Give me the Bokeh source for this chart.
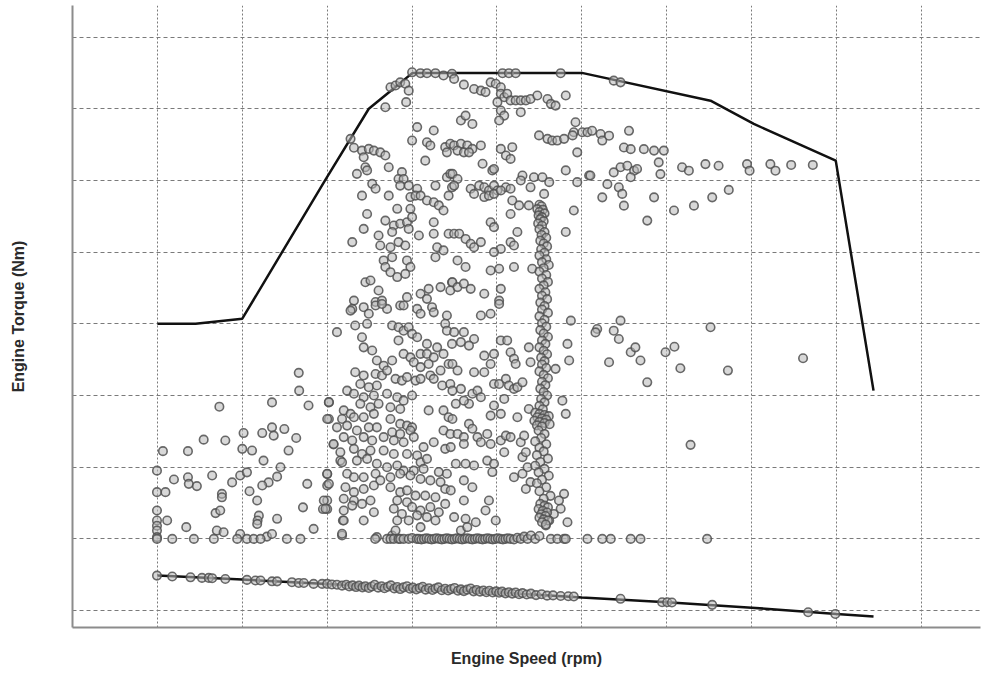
from bokeh.plotting import figure
from bokeh.models import Range1d, FixedTicker
from bokeh.embed import file_html
from bokeh.resources import INLINE

# Grid positions (no tick labels are shown)
speed_grid = [800, 1000, 1200, 1400, 1600, 1800, 2000, 2200, 2400, 2600]
torque_grid = [-250, 0, 250, 500, 750, 1000, 1250, 1500, 1750]

# Full-load (maximum torque) curve
full_load_rpm = [800, 890, 1000, 1196, 1298, 1350, 1401, 1800, 2103, 2205, 2398, 2487]
full_load_nm = [750, 750, 768, 1253, 1500, 1563, 1625, 1625, 1528, 1447, 1319, 517]

# Motoring (drag torque) curve
motoring_rpm = [800, 1000, 1200, 1400, 1600, 1800, 2000, 2200, 2400, 2487]
motoring_nm = [-128, -142, -157, -172, -186, -204, -221, -240, -262, -271]

# Measured operating points, grouped by area of the map (rpm, Nm)
low_speed_pts = [
    (813, 306), (872, 306), (799, 238), (839, 207), (872, 215), (874, 192), (893, 184),
    (929, 221), (909, 346), (960, 343), (946, 461), (799, 163), (819, 163), (799, 99),
    (823, 64), (799, 64), (799, 46), (799, 29), (799, 6), (868, 41), (952, 157), (952, 145),
    (937, 90), (948, 99), (940, 29), (956, 23), (976, 197), (995, 221), (1011, 232),
    (1000, 314), (1003, 369), (1023, 308), (1050, 273), (1047, 369), (1070, 389),
    (1074, 360), (1099, 383), (1070, 476), (1133, 579), (1134, 517), (1156, 465),
    (1127, 352), (1109, 308), (1090, 250), (1082, 217), (1062, 197), (1047, 186),
    (1017, 166), (1035, 134), (1039, 81), (1036, 64), (1035, 52), (1082, 70), (1168, 35),
    (1153, 192), (1143, 110), (995, 17), (1058, 8), (1070, 17), (1200, 134), (1200, 104),
    (1190, 104), (1200, 186), (1200, 226), (1204, 476), (1204, 418), (1215, 329),
    (1235, 12), (1237, 64), (1231, 273),
]

upper_cloud_pts = [
    (1400, 1627), (1420, 1624), (1435, 1624), (1455, 1624), (1474, 1616), (1494, 1622),
    (1349, 1575), (1361, 1581), (1372, 1592), (1384, 1587), (1392, 1563), (1386, 1523),
    (1337, 1505), (1255, 1395), (1263, 1364), (1412, 1436), (1451, 1424), (1400, 1389),
    (1435, 1383), (1443, 1372), (1431, 1319), (1478, 1366), (1490, 1378), (1482, 1348),
    (1282, 1354), (1298, 1360), (1310, 1354), (1325, 1348), (1337, 1337), (1286, 1331),
    (1270, 1273), (1290, 1296), (1294, 1285), (1345, 1296), (1376, 1279), (1368, 1255),
    (1380, 1255), (1372, 1232), (1392, 1232), (1306, 1238), (1314, 1221), (1282, 1197),
    (1345, 1197), (1396, 1192), (1412, 1221), (1408, 1197), (1420, 1197), (1435, 1180),
    (1451, 1174), (1463, 1163), (1474, 1145), (1455, 1232), (1482, 1261), (1490, 1273),
    (1486, 1197), (1494, 1226), (1365, 1151), (1396, 1151), (1294, 1133), (1337, 1110),
    (1357, 1093), (1372, 1099), (1388, 1104), (1400, 1122), (1286, 1081), (1353, 1070),
    (1392, 1081), (1451, 1104), (1451, 1064), (1486, 1064), (1321, 1058), (1325, 1023),
    (1368, 1035), (1349, 1017), (1384, 1023), (1259, 1035), (1416, 1058), (1459, 1017),
    (1455, 982), (1474, 1006), (1353, 982), (1333, 971), (1388, 971), (1396, 948),
    (1337, 948), (1349, 930), (1365, 913), (1290, 895), (1302, 901), (1321, 866),
    (1384, 924), (1494, 895), (1467, 878), (1439, 872), (1420, 855), (1388, 843),
    (1372, 814), (1263, 831), (1314, 826), (1329, 831), (1341, 802), (1286, 808),
    (1259, 802), (1435, 837), (1447, 808), (1490, 866),
    (1613, 1624), (1628, 1624), (1644, 1624), (1750, 1624), (1499, 1604), (1522, 1584),
    (1546, 1569), (1562, 1563), (1573, 1558), (1585, 1592), (1597, 1587), (1609, 1575),
    (1609, 1552), (1617, 1540), (1624, 1552), (1632, 1529), (1644, 1529), (1656, 1529),
    (1668, 1529), (1679, 1534), (1695, 1546), (1719, 1534), (1727, 1517), (1738, 1511),
    (1762, 1546), (1601, 1523), (1609, 1494), (1617, 1476), (1605, 1459), (1656, 1488),
    (1515, 1459), (1526, 1476), (1542, 1447), (1785, 1453), (1781, 1418), (1699, 1407),
    (1719, 1395), (1730, 1389), (1742, 1389), (1758, 1395), (1778, 1407), (1801, 1418),
    (1813, 1418), (1789, 1348), (1499, 1372), (1515, 1378), (1530, 1372), (1542, 1360),
    (1562, 1372), (1507, 1354), (1522, 1348), (1534, 1348), (1609, 1360), (1621, 1337),
    (1636, 1366), (1632, 1325), (1566, 1308), (1589, 1285), (1593, 1290), (1762, 1285),
    (1817, 1267), (1495, 1273), (1507, 1255), (1499, 1232), (1660, 1267), (1656, 1250),
    (1687, 1261), (1707, 1261), (1723, 1244), (1679, 1226), (1711, 1203), (1789, 1244),
    (1538, 1221), (1546, 1203), (1558, 1232), (1570, 1226), (1581, 1215), (1593, 1232),
    (1601, 1215), (1621, 1226), (1632, 1221), (1570, 1192), (1581, 1197), (1593, 1203),
    (1609, 1215), (1636, 1180), (1652, 1163), (1675, 1163), (1781, 1145), (1632, 1133),
    (1585, 1104), (1593, 1087), (1648, 1070), (1762, 1070), (1499, 1064), (1511, 1064),
    (1526, 1046), (1538, 1029), (1546, 1017), (1562, 1035), (1609, 1011), (1632, 1035),
    (1640, 1023), (1593, 1000), (1507, 971), (1526, 948), (1585, 936), (1605, 942),
    (1640, 948), (1683, 942), (1495, 895), (1507, 878), (1522, 890), (1538, 872),
    (1570, 855), (1609, 872), (1605, 831),
]

lower_cloud_pts = [
    (1255, 796), (1298, 785), (1314, 814), (1329, 819), (1380, 814), (1412, 802),
    (1420, 785), (1451, 790), (1482, 779), (1266, 744), (1294, 750), (1353, 744),
    (1368, 738), (1380, 726), (1392, 738), (1400, 715), (1412, 703), (1223, 721),
    (1282, 703), (1286, 668), (1306, 657), (1368, 692), (1435, 680), (1459, 668),
    (1474, 645), (1494, 680), (1478, 750), (1482, 726), (1420, 645), (1435, 645),
    (1451, 633), (1317, 622), (1333, 604), (1353, 622), (1380, 645), (1396, 633),
    (1404, 616), (1420, 599), (1439, 610), (1467, 587), (1486, 610), (1443, 570),
    (1451, 558), (1266, 581), (1286, 570), (1314, 575), (1329, 570), (1341, 587),
    (1361, 558), (1376, 552), (1388, 564), (1408, 552), (1420, 558), (1471, 535),
    (1490, 540), (1278, 540), (1298, 529), (1317, 535), (1247, 517), (1263, 506),
    (1286, 494), (1310, 500), (1341, 506), (1365, 494), (1380, 482), (1400, 500),
    (1204, 477), (1239, 448), (1255, 436), (1278, 471), (1302, 459), (1321, 471),
    (1349, 459), (1372, 453), (1439, 448), (1474, 448), (1486, 424), (1200, 418),
    (1235, 418), (1263, 424), (1286, 424), (1310, 436), (1349, 418), (1372, 401),
    (1388, 395), (1400, 389), (1223, 389), (1247, 395), (1270, 378), (1298, 389),
    (1317, 389), (1353, 372), (1372, 366), (1396, 378), (1474, 378), (1490, 366),
    (1215, 331), (1239, 355), (1259, 343), (1286, 355), (1306, 343), (1333, 355),
    (1357, 343), (1380, 337), (1404, 355), (1451, 337), (1427, 320), (1478, 314),
    (1231, 302), (1263, 314), (1282, 296), (1302, 308), (1333, 308), (1357, 296),
    (1388, 296), (1412, 291), (1420, 267), (1435, 279), (1235, 267), (1270, 273),
    (1294, 279), (1317, 262), (1341, 250), (1365, 256), (1380, 238), (1404, 238),
    (1427, 244), (1463, 233), (1482, 227), (1200, 227), (1204, 192), (1247, 227),
    (1263, 215), (1286, 215), (1314, 227), (1325, 204), (1349, 215), (1372, 227),
    (1396, 221), (1420, 209), (1443, 204), (1467, 198), (1478, 174), (1243, 180),
    (1263, 163), (1286, 174), (1310, 186), (1349, 180), (1372, 163), (1388, 169),
    (1408, 151), (1431, 151), (1455, 145), (1192, 134), (1196, 105), (1239, 140),
    (1263, 134), (1282, 122), (1302, 134), (1365, 134), (1388, 128), (1400, 111),
    (1420, 99), (1443, 111), (1463, 93), (1478, 122), (1239, 99), (1259, 116),
    (1310, 93), (1357, 105), (1376, 87), (1412, 82), (1435, 76), (1455, 64),
    (1239, 64), (1286, 64), (1365, 64), (1392, 64), (1420, 41), (1235, 18),
    (1317, 6), (1353, 12), (1361, 29),
    (1605, 819), (1562, 779), (1585, 785), (1774, 761), (1499, 721), (1522, 721),
    (1546, 697), (1515, 686), (1534, 674), (1609, 692), (1624, 692), (1632, 651),
    (1640, 628), (1644, 610), (1570, 639), (1593, 645), (1585, 610), (1675, 668),
    (1679, 616), (1766, 680), (1770, 622), (1738, 593), (1495, 610), (1507, 587),
    (1546, 581), (1570, 581), (1593, 540), (1605, 540), (1621, 558), (1628, 535),
    (1640, 523), (1648, 529), (1660, 546), (1495, 517), (1515, 523), (1542, 506),
    (1554, 517), (1562, 494), (1534, 471), (1522, 482), (1503, 471), (1754, 482),
    (1762, 436), (1593, 465), (1617, 488), (1585, 430), (1609, 436), (1648, 424),
    (1675, 453), (1495, 418), (1534, 401), (1542, 384), (1507, 366), (1522, 355),
    (1554, 355), (1562, 337), (1577, 366), (1585, 331), (1609, 343), (1621, 360),
    (1632, 355), (1617, 302), (1656, 337), (1664, 360), (1491, 320), (1522, 331),
    (1577, 273), (1589, 233), (1593, 262), (1660, 285), (1668, 302), (1672, 250),
    (1503, 262), (1526, 262), (1546, 256), (1640, 215), (1660, 227), (1679, 198),
    (1668, 174), (1522, 204), (1542, 180), (1522, 134), (1491, 169), (1581, 134),
    (1573, 99), (1597, 64), (1499, 76), (1526, 70), (1550, 58), (1515, 29), (1530, 41),
    (1758, 157), (1746, 134), (1734, 87), (1750, 105), (1723, 64), (1715, 47),
    (1766, 58),
]

# Narrow column of points near 1700 rpm
column_pts = [
    (1700, 1165), (1705, 1160), (1695, 1150), (1708, 1148), (1700, 1140), (1712, 1135),
    (1698, 1128), (1706, 1122), (1702, 1115), (1710, 1108), (1697, 1100), (1706, 1092),
    (1700, 1080), (1712, 1070), (1705, 1060), (1716, 1050), (1702, 1040), (1710, 1030),
    (1718, 1020), (1704, 1010), (1712, 998), (1700, 988), (1716, 975), (1706, 965),
    (1722, 955), (1710, 944), (1700, 932), (1716, 920), (1706, 908), (1720, 896),
    (1710, 884), (1700, 872), (1714, 860), (1706, 848), (1718, 836), (1702, 824),
    (1712, 812), (1706, 800), (1720, 788), (1700, 776), (1712, 764), (1706, 752),
    (1716, 740), (1702, 728), (1710, 716), (1720, 704), (1706, 692), (1714, 680),
    (1700, 668), (1710, 656), (1718, 644), (1704, 632), (1712, 620), (1706, 608),
    (1716, 596), (1700, 584), (1710, 572), (1720, 560), (1706, 548), (1714, 536),
    (1702, 524), (1710, 512), (1718, 500), (1704, 488), (1712, 476), (1700, 464),
    (1708, 452), (1690, 440), (1700, 436), (1712, 432), (1722, 428), (1695, 424),
    (1706, 420), (1716, 416), (1688, 412), (1700, 408), (1712, 404), (1724, 400),
    (1694, 396), (1706, 392), (1698, 378), (1712, 366), (1704, 352), (1690, 340),
    (1716, 330), (1700, 318), (1710, 305), (1694, 292), (1720, 280), (1702, 268),
    (1690, 255), (1712, 244), (1698, 232), (1722, 220), (1706, 206), (1694, 194),
    (1716, 180), (1700, 166), (1726, 150), (1710, 140), (1702, 122), (1712, 116),
    (1720, 110), (1698, 104), (1708, 98), (1718, 92), (1704, 86), (1714, 80),
    (1700, 74), (1710, 68), (1720, 64), (1706, 58), (1715, 50),
]

high_speed_pts = [
    (1875, 1598), (1891, 1592), (1911, 1423), (1899, 1365), (1915, 1359), (1946, 1359),
    (1970, 1354), (1993, 1354), (1981, 1313), (1985, 1272), (1875, 1278), (1891, 1296),
    (1907, 1301), (1923, 1284), (1930, 1290), (1915, 1261), (1860, 1237), (1887, 1226),
    (1895, 1203), (1848, 1191), (1899, 1162), (1970, 1191), (1954, 1110), (2017, 1145),
    (1891, 761), (1836, 732), (1824, 1423), (1844, 1412), (1848, 1389), (1864, 1406),
    (1820, 1267), (2036, 1296), (2052, 1284), (2091, 1307), (2122, 1301), (2189, 1307),
    (2195, 1284), (2244, 1307), (2256, 1284), (2293, 1304), (2344, 1304), (2064, 1162),
    (2107, 1191), (2146, 1217), (2103, 738), (1997, 651), (2018, 670), (2032, 595),
    (2144, 587), (2321, 630), (2056, 328), (1832, 720), (1875, 726), (1887, 697),
    (1864, 616), (1915, 651), (1926, 668), (1938, 622), (1954, 546),
]

# Points sitting on the zero-torque line
zero_torque_pts = [
    (799, 0), (835, 0), (886, 0), (933, 0), (988, 0), (1011, 0), (1027, 0), (1043, 0),
    (1105, 0), (1137, 0), (1313, 0), (1341, 0), (1349, 0), (1357, 0), (1368, 0),
    (1372, 0), (1380, 0), (1392, 0), (1400, 3), (1411, 0), (1416, 0), (1422, -2),
    (1428, 0), (1434, 2), (1440, 0), (1446, -2), (1452, 0), (1458, 2), (1464, 0),
    (1470, -2), (1476, 0), (1482, 2), (1488, 0), (1494, -2), (1500, 0), (1506, 2),
    (1512, 0), (1518, -2), (1524, 0), (1530, 2), (1536, 0), (1542, -2), (1548, 0),
    (1554, 2), (1560, 0), (1566, -2), (1572, 0), (1578, 2), (1584, 0), (1590, -2),
    (1596, 0), (1602, 2), (1608, 0), (1614, -2), (1620, 0), (1626, 2), (1632, 0),
    (1640, -2), (1648, 4), (1656, 0), (1664, 8), (1672, 0), (1680, 12), (1690, 0),
    (1700, 10), (1727, 0), (1742, 0), (1758, 0), (1762, 0), (1813, 0), (1848, 0),
    (1868, 0), (1915, 0), (1938, 0), (2095, 0),
]

# Points recorded while motoring
motoring_pts = [
    (799, -128), (835, -131), (878, -134), (905, -136), (921, -136), (929, -137),
    (960, -140), (1011, -143), (1031, -145), (1043, -145), (1070, -148), (1082, -148),
    (1117, -151), (1133, -154), (1145, -154), (1168, -157), (1188, -157), (1200, -157),
    (1211, -159), (1223, -160), (1235, -163), (1245, -160), (1252, -166), (1260, -162),
    (1268, -168), (1275, -163), (1283, -169), (1290, -165), (1298, -171), (1305, -166),
    (1312, -160), (1320, -170), (1328, -165), (1335, -172), (1343, -167), (1350, -162),
    (1358, -173), (1365, -168), (1372, -175), (1380, -169), (1388, -165), (1395, -174),
    (1402, -170), (1410, -176), (1418, -171), (1425, -167), (1432, -177), (1440, -172),
    (1448, -178), (1455, -173), (1462, -169), (1470, -179), (1478, -174), (1485, -180),
    (1492, -175), (1500, -171), (1508, -181), (1515, -176), (1522, -182), (1530, -177),
    (1538, -173), (1545, -183), (1552, -178), (1560, -184), (1568, -180), (1575, -186),
    (1582, -181), (1590, -187), (1598, -183), (1605, -188), (1612, -184), (1620, -190),
    (1628, -186), (1636, -191), (1644, -187), (1652, -193), (1660, -189), (1670, -194),
    (1680, -191), (1692, -196), (1705, -193), (1718, -198), (1732, -197), (1750, -199),
    (1768, -200), (1781, -201), (1891, -209), (1989, -221), (2001, -221), (2012, -222),
    (2107, -230), (2333, -256), (2397, -262),
]

p = figure(
    width=982, height=675,
    x_range=Range1d(600, 2739), y_range=Range1d(-309, 1860),
    output_backend="svg", toolbar_location=None,
    min_border_left=72, min_border_right=2, min_border_top=5, min_border_bottom=48,
    background_fill_color="white", border_fill_color="white",
)
p.outline_line_color = None

# Axes carry no ticks; the dashed grid gets its own tickers
for ax in (p.xaxis, p.yaxis):
    ax.ticker = FixedTicker(ticks=[])
    ax.major_tick_in = 0
    ax.major_tick_out = 0
    ax.minor_tick_in = 0
    ax.minor_tick_out = 0
    ax.major_label_standoff = 0
    ax.axis_line_color = "#8c8c8c"
    ax.axis_line_width = 2
    ax.axis_label_text_font = "Liberation Sans"
    ax.axis_label_text_font_style = "bold"
    ax.axis_label_text_font_size = "16px"
    ax.axis_label_text_color = "#2a2a2a"

p.xaxis.axis_label = "Engine Speed (rpm)"
p.yaxis.axis_label = "Engine Torque (Nm)"
p.xaxis.axis_label_standoff = 22
p.yaxis.axis_label_standoff = 46

p.xgrid.ticker = FixedTicker(ticks=speed_grid)
p.ygrid.ticker = FixedTicker(ticks=torque_grid)
p.xgrid.grid_line_color = "#7a7a7a"
p.xgrid.grid_line_dash = "2 2"
p.xgrid.grid_line_width = 1
p.ygrid.grid_line_color = "#7a7a7a"
p.ygrid.grid_line_dash = "4 3"
p.ygrid.grid_line_width = 1

p.line(full_load_rpm, full_load_nm, line_color="#111111", line_width=2.5)
p.line(motoring_rpm, motoring_nm, line_color="#111111", line_width=2.5)

groups = [low_speed_pts, upper_cloud_pts, lower_cloud_pts, column_pts,
          high_speed_pts, zero_torque_pts, motoring_pts]
for pts in groups:
    xs = [s for s, _ in pts]
    ys = [t for _, t in pts]
    p.scatter(xs, ys, size=8.5, marker="circle",
              fill_color="#b8b8b8", fill_alpha=0.55,
              line_color="#505050", line_width=1.6, line_alpha=0.85)

open("out.html", "w").write(file_html(p, INLINE))
